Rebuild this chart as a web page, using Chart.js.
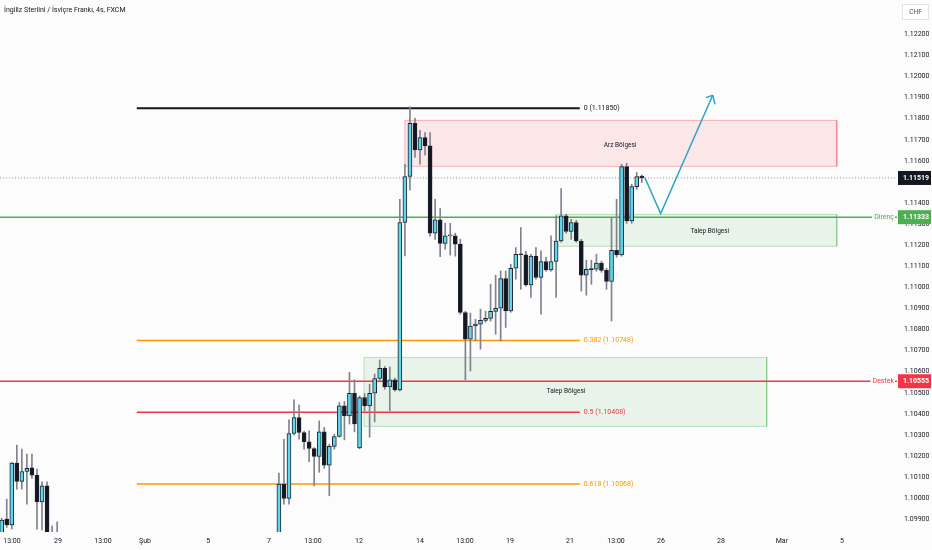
<!DOCTYPE html>
<html>
<head>
<meta charset="utf-8">
<script src="https://cdn.jsdelivr.net/npm/chart.js@4.4.0/dist/chart.umd.min.js"></script>
<style>
html, body { margin: 0; padding: 0; background: #fcfcfc; }
#wrap { width: 932px; height: 550px; }
</style>
</head>
<body>
<div id="wrap"><canvas id="priceChart" width="932" height="550"></canvas></div>
<script>
const title = 'İngiliz Sterlini / İsviçre Frankı, 4s, FXCM';

// bar index (4h bars), two stretches of data
const bars = [0,1,2,3,4,5,6,7,8,9,10,11,
	55,56,57,58,59,60,61,62,63,64,65,66,67,68,69,70,71,72,73,74,75,76,77,78,79,80,81,82,83,84,85,86,87,88,89,90,
	91,92,93,94,95,96,97,98,99,100,101,102,103,104,105,106,107,108,109,110,111,112,113,114,115,116,117,118,119,120,
	121,122,123,124,125,126,127];

const opens = [1.09835,1.09901,1.09873,1.10167,1.10080,1.10127,1.10144,1.10110,1.09983,1.10059,1.09800,1.09790,
	1.09790,1.10067,1.09999,1.10307,1.10383,1.10312,1.10268,1.10236,1.10198,1.10315,
	1.10157,1.10246,1.10293,1.10438,1.10391,1.10498,1.10239,1.10478,1.10438,1.10498,
	1.10568,1.10616,1.10528,1.10562,1.10514,1.11308,1.11526,1.11778,1.11652,1.11710,
	1.11671,1.11257,1.11320,1.11209,1.11244,1.11244,1.11205,1.10881,1.10754,1.10817,
	1.10826,1.10844,1.10853,1.10886,1.10901,1.11042,1.10889,1.11091,1.11157,1.11154,
	1.11012,1.11149,1.11047,1.11123,1.11083,1.11123,1.11220,1.11339,1.11265,1.11308,
	1.11220,1.11058,1.11086,1.11086,1.11115,1.11081,1.11028,1.11176,1.11154,1.11573,
	1.11315,1.11478,1.11528];

const highs = [1.09905,1.09996,1.10170,1.10252,1.10233,1.10209,1.10209,1.10138,1.10078,1.10078,1.09868,1.09888,
	1.10119,1.10280,1.10372,1.10467,1.10442,1.10318,1.10320,1.10240,1.10367,1.10336,
	1.10257,1.10304,1.10454,1.10459,1.10597,1.10562,1.10485,1.10497,1.10541,1.10589,
	1.10656,1.10625,1.10623,1.10570,1.11418,1.11584,1.11856,1.11802,1.11745,1.11734,
	1.11734,1.11418,1.11374,1.11304,1.11304,1.11257,1.11228,1.10887,1.10878,1.10849,
	1.10897,1.10887,1.11015,1.11058,1.11078,1.11078,1.11110,1.11189,1.11284,1.11172,
	1.11157,1.11189,1.11173,1.11143,1.11244,1.11339,1.11469,1.11347,1.11323,1.11318,
	1.11228,1.11129,1.11129,1.11157,1.11124,1.11091,1.11331,1.11418,1.11584,1.11589,
	1.11489,1.11545,1.11533];

const lows = [1.09820,1.09862,1.09854,1.10043,1.10043,1.09972,1.10094,1.09854,1.09850,1.09770,1.09760,1.09770,
	1.09780,1.09972,1.09972,1.10300,1.10280,1.10233,1.10173,1.10059,1.10123,1.10142,
	1.10012,1.10233,1.10290,1.10277,1.10352,1.10315,1.10235,1.10415,1.10289,1.10362,
	1.10560,1.10517,1.10415,1.10508,1.10509,1.11149,1.11462,1.11617,1.11584,1.11628,
	1.11243,1.11228,1.11146,1.11181,1.11153,1.11148,1.10873,1.10562,1.10604,1.10746,
	1.10707,1.10835,1.10840,1.10778,1.10746,1.10810,1.10882,1.11039,1.10991,1.11006,
	1.10952,1.11039,1.10873,1.11077,1.11077,1.10952,1.11214,1.11257,1.11228,1.11214,
	1.10983,1.10963,1.11015,1.11077,1.11072,1.10991,1.10841,1.11143,1.11148,1.11304,
	1.11304,1.11465,1.11497];

const closes = [1.09897,1.09873,1.10167,1.10080,1.10127,1.10142,1.10110,1.09983,1.10059,1.09783,1.09790,1.09810,
	1.10067,1.09999,1.10307,1.10383,1.10312,1.10268,1.10236,1.10198,1.10315,1.10157,
	1.10246,1.10293,1.10438,1.10391,1.10498,1.10352,1.10478,1.10438,1.10498,1.10568,
	1.10616,1.10528,1.10562,1.10514,1.11308,1.11526,1.11778,1.11652,1.11710,1.11671,
	1.11257,1.11320,1.11209,1.11244,1.11246,1.11205,1.10881,1.10754,1.10817,1.10826,
	1.10844,1.10853,1.10886,1.10901,1.11042,1.10889,1.11091,1.11157,1.11155,1.11012,
	1.11149,1.11047,1.11123,1.11083,1.11123,1.11220,1.11339,1.11265,1.11308,1.11220,
	1.11058,1.11086,1.11084,1.11115,1.11081,1.11028,1.11176,1.11154,1.11573,1.11315,
	1.11478,1.11526,1.11519];

const xTickPos = [2.04, 11.17, 20.1, 28.43, 40.97, 53.04, 61.77, 70.9, 83.0, 91.93, 100.85, 112.76, 121.9, 130.82, 142.7, 154.8, 166.7];
const xTickLabels = ['13:00','29','13:00','Şub','5','7','13:00','12','14','13:00','19','21','13:00','26','28','Mar','5'];
const yTicks = [1.099,1.100,1.101,1.102,1.103,1.104,1.105,1.106,1.107,1.108,1.109,1.110,
	1.111,1.112,1.113,1.114,1.115,1.116,1.117,1.118,1.119,1.120,1.121,1.122];

// fibonacci retracement
const fibRatios = ['0', '0.382', '0.5', '0.618'];
const fibValues = [1.11850, 1.10748, 1.10408, 1.10068];
const fibFrom = 26.8, fibTo = 114.7;

// support / resistance and last price
const resistance = 1.11333;
const support = 1.10555;
const lastPrice = 1.11519;

// zones: supply, upper demand, lower demand
const zoneNames = ['Arz Bölgesi', 'Talep Bölgesi', 'Talep Bölgesi'];
const zoneTop = [1.11792, 1.11346, 1.10668];
const zoneBottom = [1.11574, 1.11195, 1.10341];
const zoneFrom = [80.0, 110.0, 71.9];
const zoneTo = [165.7, 165.7, 151.8];

// projected path
const pathX = [127.6, 130.75, 141.07];
const pathY = [1.11521, 1.11350, 1.11911];
const headX = [139.74, 141.53];
const headY = [1.11900, 1.11868];

const xMin = -0.337, xMax = 177.64;
const yMin = 1.0984, yMax = 1.12363;

const bg = '#fcfcfc';
const upColor = '#5fd6ec';
const downColor = '#131722';
const green = '#4caf50';
const red = '#f23645';
const orange = '#ff9800';
const font = 'Roboto, "Noto Sans", sans-serif';

function seg(x1, x2, v) {
	return [{x: x1, y: v}, {x: x2, y: v}];
}

function lineSet(data, color, width, order, dash) {
	return {
		type: 'line',
		data: data,
		borderColor: color,
		borderWidth: width,
		borderDash: dash || [],
		pointRadius: 0,
		fill: false,
		tension: 0,
		order: order
	};
}

var datasets = [];

// zones
for (let i = 0; i < zoneTop.length; i++) {
	let fillCol = i == 0 ? 'rgba(242, 54, 69, 0.11)' : 'rgba(76, 175, 80, 0.11)';
	let lineCol = i == 0 ? 'rgba(242, 54, 69, 0.35)' : 'rgba(76, 175, 80, 0.35)';
	datasets.push({
		type: 'line',
		data: seg(zoneFrom[i], zoneTo[i], zoneTop[i]),
		borderWidth: 0,
		pointRadius: 0,
		backgroundColor: fillCol,
		fill: {value: zoneBottom[i]},
		order: 20
	});
	datasets.push(lineSet([
		{x: zoneFrom[i], y: zoneTop[i]},
		{x: zoneTo[i], y: zoneTop[i]},
		{x: zoneTo[i], y: zoneBottom[i]},
		{x: zoneFrom[i], y: zoneBottom[i]},
		{x: zoneFrom[i], y: zoneTop[i]}
	], lineCol, 1, 19));
}

// horizontal levels
var fibColors = ['#131722', orange, red, orange];
for (let i = 0; i < fibValues.length; i++) {
	datasets.push(lineSet(seg(fibFrom, fibTo, fibValues[i]), fibColors[i], i == 0 ? 2 : 1.5, 10));
}
datasets.push(lineSet(seg(xMin, xMax, lastPrice), '#9598a1', 1, 11, [1, 2]));
datasets.push(lineSet(seg(xMin, xMax, resistance), green, 1.5, 10));
datasets.push(lineSet(seg(xMin, xMax, support), red, 1.5, 10));

// candles
datasets.push({
	type: 'bar',
	data: bars.map((b, i) => ({x: b, y: [lows[i], highs[i]]})),
	backgroundColor: '#80838c',
	barThickness: 1,
	grouped: false,
	order: 3
});
datasets.push({
	type: 'bar',
	data: bars.map((b, i) => ({x: b, y: [Math.min(opens[i], closes[i]), Math.max(opens[i], closes[i])]})),
	backgroundColor: bars.map((b, i) => closes[i] >= opens[i] ? upColor : downColor),
	borderColor: '#1e222d',
	borderWidth: 1,
	borderSkipped: false,
	barThickness: 4,
	minBarLength: 1,
	grouped: false,
	order: 2
});

// arrow
datasets.push(lineSet(pathX.map((x, i) => ({x: x, y: pathY[i]})), '#2fa4c4', 1.5, 1));
for (let i = 0; i < headX.length; i++) {
	datasets.push(lineSet([{x: pathX[2], y: pathY[2]}, {x: headX[i], y: headY[i]}], '#2fa4c4', 1.5, 1));
}

const drawTexts = {
	id: 'drawTexts',
	beforeDraw(chart) {
		const ctx = chart.ctx;
		ctx.save();
		ctx.fillStyle = bg;
		ctx.fillRect(0, 0, chart.width, chart.height);
		ctx.restore();
	},
	afterDraw(chart) {
		const ctx = chart.ctx;
		const xs = chart.scales.x, ys = chart.scales.y;
		const area = chart.chartArea;
		ctx.save();
		ctx.textBaseline = 'middle';

		// title
		ctx.font = '7px ' + font;
		ctx.fillStyle = '#131722';
		ctx.textAlign = 'left';
		ctx.fillText(title, 4, 10);

		// fib labels
		ctx.font = '7px ' + font;
		for (let i = 0; i < fibValues.length; i++) {
			ctx.fillStyle = fibColors[i];
			ctx.fillText(fibRatios[i] + ' (' + fibValues[i].toFixed(5) + ')', xs.getPixelForValue(fibTo) + 4, ys.getPixelForValue(fibValues[i]));
		}

		// zone labels
		ctx.font = '6.5px ' + font;
		ctx.fillStyle = '#131722';
		ctx.textAlign = 'center';
		var labelAt = [[122.7, 1.11675], [140.5, 1.11268], [111.96, 1.10507]];
		for (let i = 0; i < zoneNames.length; i++) {
			ctx.fillText(zoneNames[i], xs.getPixelForValue(labelAt[i][0]), ys.getPixelForValue(labelAt[i][1]));
		}

		// line tags near the price scale
		ctx.font = '7px ' + font;
		ctx.textAlign = 'right';
		[['Direnç', resistance, green], ['Destek', support, red]].forEach(function (t) {
			let y = ys.getPixelForValue(t[1]);
			let w = ctx.measureText(t[0]).width;
			ctx.fillStyle = bg;
			ctx.fillRect(area.right - w - 5, y - 4, w + 3, 8);
			ctx.fillStyle = t[2];
			ctx.fillText(t[0], area.right - 3, y);
		});

		// price boxes
		ctx.textAlign = 'left';
		[[lastPrice, downColor], [resistance, green], [support, red]].forEach(function (p) {
			let y = ys.getPixelForValue(p[0]);
			ctx.fillStyle = p[1];
			ctx.fillRect(area.right + 1, y - 7, chart.width - area.right - 2, 14);
			ctx.fillStyle = '#ffffff';
			ctx.font = 'bold 7px ' + font;
			ctx.fillText(p[0].toFixed(5), area.right + 6, y + 0.5);
		});

		// currency box
		ctx.fillStyle = '#ffffff';
		ctx.strokeStyle = '#e0e3eb';
		ctx.lineWidth = 1;
		ctx.fillRect(902.5, 4.5, 26, 15);
		ctx.strokeRect(902.5, 4.5, 26, 15);
		ctx.fillStyle = '#4a4e59';
		ctx.font = '6.5px ' + font;
		ctx.textAlign = 'center';
		ctx.fillText('CHF', 915.5, 12.5);
		ctx.restore();
	}
};

new Chart(document.getElementById('priceChart').getContext('2d'), {
	type: 'bar',
	data: {datasets: datasets},
	options: {
		responsive: false,
		animation: false,
		events: [],
		layout: {padding: 0},
		plugins: {
			legend: {display: false},
			tooltip: {enabled: false}
		},
		scales: {
			x: {
				type: 'linear',
				min: xMin,
				max: xMax,
				offset: false,
				grid: {display: false, drawTicks: false},
				border: {display: false},
				afterFit: function (s) {
					s.height = 18;
					s.paddingLeft = 0;
					s.paddingRight = 0;
				},
				afterBuildTicks: function (s) { s.ticks = xTickPos.map(v => ({value: v})); },
				ticks: {
					autoSkip: false,
					maxRotation: 0,
					padding: 5,
					color: '#131722',
					font: {size: 7, family: font},
					callback: function (v, i) { return xTickLabels[i]; }
				}
			},
			y: {
				position: 'right',
				min: yMin,
				max: yMax,
				grid: {display: false, drawTicks: false},
				border: {display: false},
				afterFit: function (s) {
					s.width = 35;
					s.paddingTop = 0;
					s.paddingBottom = 0;
				},
				afterBuildTicks: function (s) { s.ticks = yTicks.map(v => ({value: v})); },
				ticks: {
					autoSkip: false,
					padding: 7,
					color: '#131722',
					font: {size: 7, family: font},
					callback: function (v) { return v.toFixed(5); }
				}
			}
		}
	},
	plugins: [drawTexts]
});
</script>
</body>
</html>
